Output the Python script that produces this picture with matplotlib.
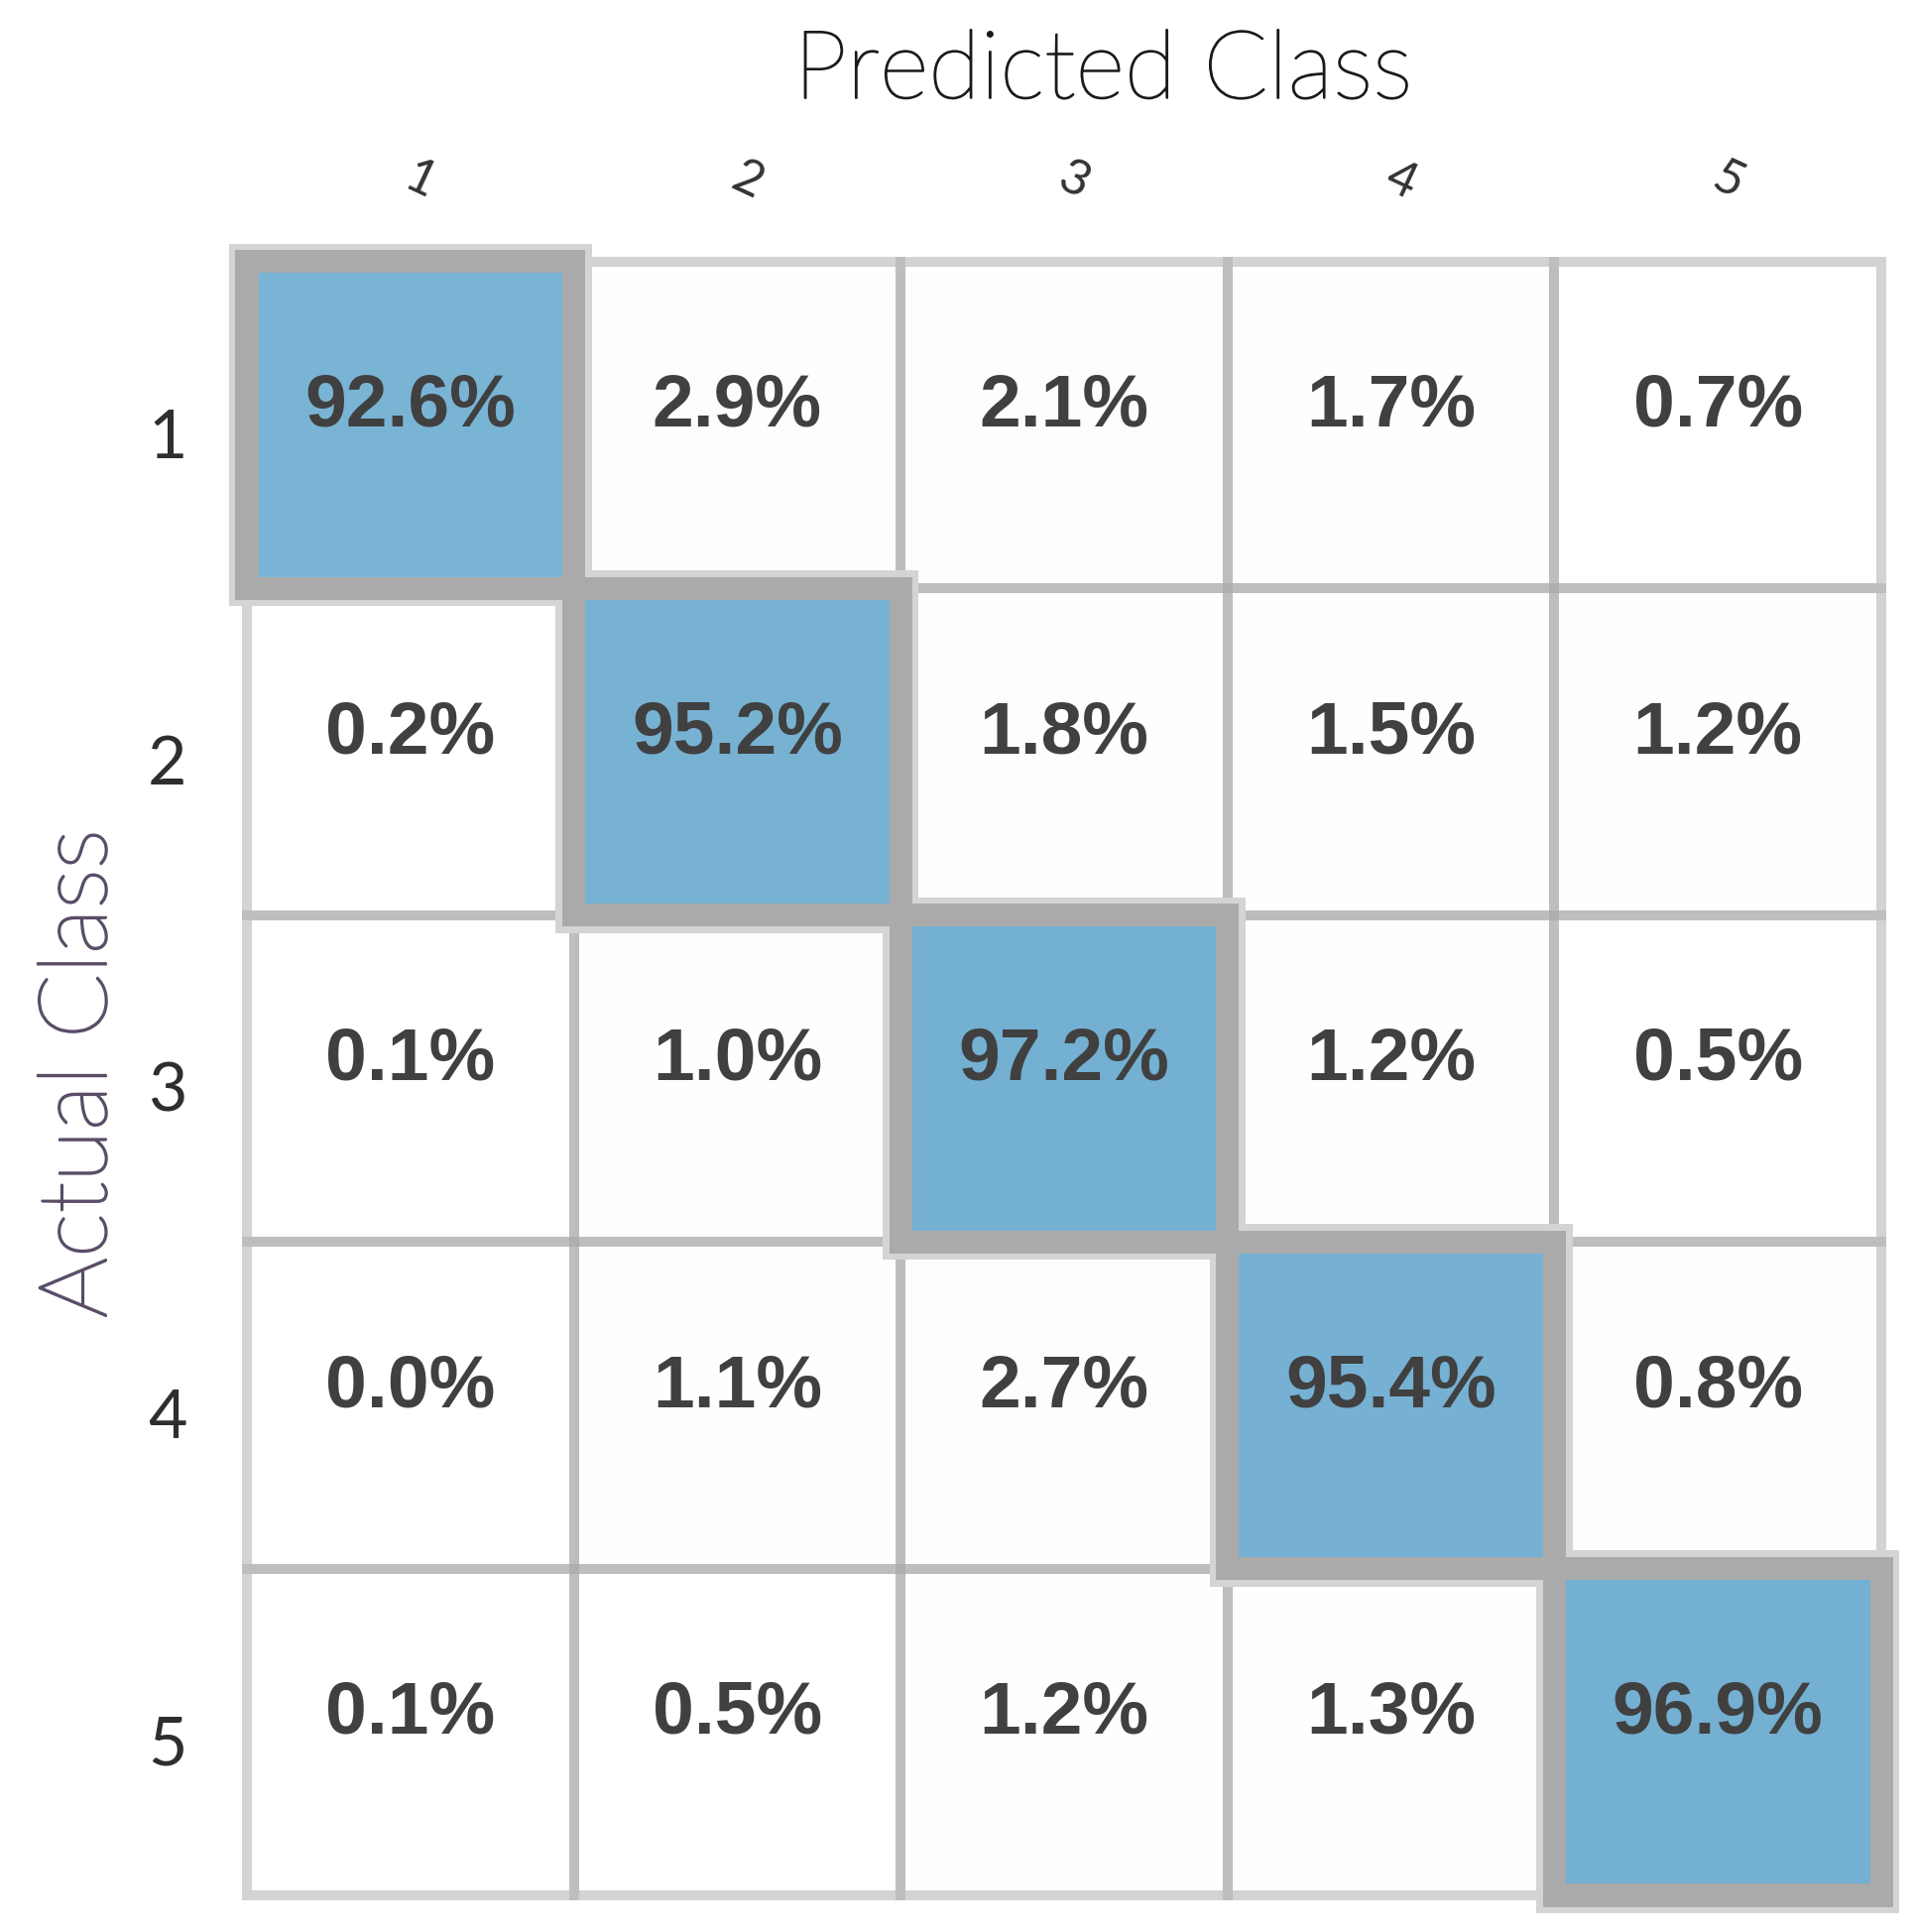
import numpy as np
import matplotlib
matplotlib.use('Agg')
import matplotlib.pyplot as plt
import matplotlib.patheffects as pe
from matplotlib.patches import Rectangle
from matplotlib.colors import LinearSegmentedColormap, Normalize

plt.rcParams['font.family'] = ['Lato', 'DejaVu Sans']

classes = ['1', '2', '3', '4', '5']

# confusion matrix in percent, rows = actual class, cols = predicted class
actual_1 = [92.6, 2.9, 2.1, 1.7, 0.7]
actual_2 = [0.2, 95.2, 1.8, 1.5, 1.2]
actual_3 = [0.1, 1.0, 97.2, 1.2, 0.5]
actual_4 = [0.0, 1.1, 2.7, 95.4, 0.8]
actual_5 = [0.1, 0.5, 1.2, 1.3, 96.9]

cm = np.array([actual_1, actual_2, actual_3, actual_4, actual_5])
n = len(classes)

cmap = LinearSegmentedColormap.from_list('white_blue', ['#ffffff', '#70aed1'])
norm = Normalize(0, 100)

fig = plt.figure(figsize=(19.33, 19.48), dpi=100)
ax = fig.add_axes([0.1288, 0.019, 0.8526, 0.8455])
ax.set_xlim(0, n)
ax.set_ylim(n, 0)
for s in ax.spines.values():
    s.set_visible(False)

# off-diagonal cells: fill first, then light borders so shared edges overlap
for i in range(n):
    for j in range(n):
        if i != j:
            ax.add_patch(Rectangle((j, i), 1, 1, facecolor=cmap(norm(cm[i, j])),
                                   edgecolor='none', zorder=1, clip_on=False))
for i in range(n):
    for j in range(n):
        if i != j:
            ax.add_patch(Rectangle((j, i), 1, 1, fill=False, edgecolor='#ababab',
                                   alpha=0.52, lw=7.2, zorder=2, clip_on=False,
                                   joinstyle='miter'))

# diagonal cells: pale halo, heavy grey frame, blue inside
hw = 0.035   # half width of the frame
g = 0.02     # halo beyond the frame
for i in range(n):
    d = hw + g
    ax.add_patch(Rectangle((i - d, i - d), 1 + 2 * d, 1 + 2 * d,
                           facecolor='#d4d4d4', edgecolor='none', zorder=3,
                           clip_on=False))
for i in range(n):
    ax.add_patch(Rectangle((i - hw, i - hw), 1 + 2 * hw, 1 + 2 * hw,
                           facecolor='#aaaaaa', edgecolor='none', zorder=4,
                           clip_on=False))
for i in range(n):
    ax.add_patch(Rectangle((i + hw, i + hw), 1 - 2 * hw, 1 - 2 * hw,
                           facecolor=cmap(norm(cm[i, i])), edgecolor='none',
                           zorder=5, clip_on=False))

for i in range(n):
    for j in range(n):
        ax.text(j + 0.5, i + 0.504, f'{cm[i, j]:.1f}%', ha='center', va='baseline',
                fontsize=54, fontweight='bold', color='#404040',
                family=['Liberation Sans', 'DejaVu Sans'], zorder=6)

# predicted class labels on top
ax.xaxis.tick_top()
ax.set_xticks(np.arange(n) + 0.53, classes)
ax.tick_params(axis='x', length=0, pad=59, labelsize=36, labelcolor='#333333',
               labelrotation=-25)
for lbl in ax.get_xticklabels():
    lbl.set_va('center')
    lbl.set_ha('center')

# actual class labels on the left
ax.set_yticks(np.arange(n) + 0.601, classes)
ax.tick_params(axis='y', length=0, pad=57.6, labelsize=49, labelcolor='#2e2e2e')
for lbl in ax.get_yticklabels():
    lbl.set_ha('center')
    lbl.set_va('baseline')

ax.set_title('Predicted Class', x=0.524, y=1.1002, pad=0, fontsize=69,
             fontweight='light', color='#1a1a1a',
             path_effects=[pe.withStroke(linewidth=1.2, foreground='#1a1a1a')])
ax.set_ylabel('Actual Class', fontsize=69, fontweight='light', color='#5a4d68',
              path_effects=[pe.withStroke(linewidth=1.6, foreground='#5a4d68')])
ax.yaxis.set_label_coords(-0.0862, 0.503)
ax.yaxis.label.set_va('baseline')

fig.savefig('out.png', dpi=100)
